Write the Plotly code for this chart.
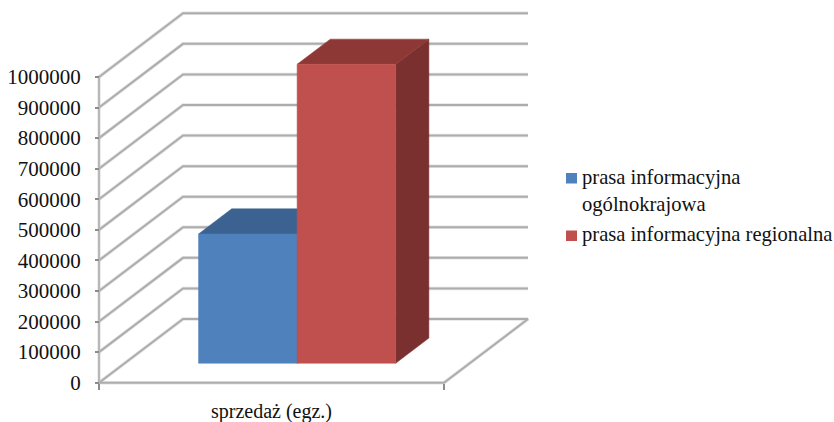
import plotly.graph_objects as go

# Chart content
category = "sprzedaż (egz.)"
series_names = ["prasa informacyjna ogólnokrajowa", "prasa informacyjna regionalna"]
legend_lines = ["prasa informacyjna<br>ogólnokrajowa", "prasa informacyjna regionalna"]
series_values = [423000, 978000]
tick_values = [0, 100000, 200000, 300000, 400000, 500000, 600000, 700000, 800000, 900000, 1000000]
tick_labels = ["0", "100000", "200000", "300000", "400000", "500000", "600000", "700000", "800000", "900000", "1000000"]

front_colors = ["#4f81bd", "#c0504d"]
top_colors = ["#3c6291", "#8e3836"]
side_colors = ["#335378", "#7a302e"]
GRID = "#adadad"
GRID_SHADOW = "#e4e4e4"
INK = "#111111"
FONT = "Liberation Serif"

# Oblique projection: depth 0..1 runs from the front plane to the back wall
DEPTH_X = 0.2435
DEPTH_Y = 208400
BAR_WIDTH = 2 / 7
BAR_START = (1 - 2 * BAR_WIDTH) / 2
BAR_DEPTH = (0.305, 0.70)


def project(points):
    xs = [u + d * DEPTH_X for u, v, d in points]
    ys = [v + d * DEPTH_Y for u, v, d in points]
    return xs, ys


def wire(points, width=2, color=GRID):
    xs, ys = project(points)
    return go.Scatter(x=xs, y=ys, mode="lines", line=dict(color=color, width=width),
                      hoverinfo="skip", showlegend=False)


def shaded_wire(points):
    # A wide pale stroke under the core stroke gives the gridline its soft edge
    return [wire(points, width=3.5, color=GRID_SHADOW), wire(points)]


def face(points, color, name):
    xs, ys = project(points + points[:1])
    return go.Scatter(x=xs, y=ys, mode="lines", fill="toself", fillcolor=color,
                      line=dict(color=color, width=0.5), name=name, showlegend=False,
                      hoverinfo="name")


fig = go.Figure()

# Walls, floor and vertical axis
for v in tick_values[1:]:
    fig.add_traces(shaded_wire([(0, v, 0), (0, v, 1), (1, v, 1)]))
fig.add_traces(shaded_wire([(0, 0, 0), (0, 0, 1), (1, 0, 1), (1, 0, 0), (0, 0, 0)]))
fig.add_trace(wire([(0, 0, 0), (0, tick_values[-1], 0)], width=2.5, color="#b8b8b8"))

# Each bar is three visible faces of a box
near, far = BAR_DEPTH
for i, value in enumerate(series_values):
    left = BAR_START + i * BAR_WIDTH
    right = left + BAR_WIDTH
    name = series_names[i]
    fig.add_trace(face([(right, 0, near), (right, 0, far), (right, value, far), (right, value, near)],
                       side_colors[i], name))
    fig.add_trace(face([(left, value, near), (right, value, near), (right, value, far), (left, value, far)],
                       top_colors[i], name))
    fig.add_trace(face([(left, 0, near), (right, 0, near), (right, value, near), (left, value, near)],
                       front_colors[i], name))

# Legend keys and their labels
annotations = []
shapes = []
for i, text in enumerate(legend_lines):
    key_top = [173, 230.5][i]
    text_top = [165, 222][i]
    shapes.append(dict(type="rect", xref="paper", yref="paper",
                       x0=566 / 834, x1=577 / 834, y0=1 - (key_top + 10.5) / 422, y1=1 - key_top / 422,
                       fillcolor=front_colors[i], line_width=0))
    annotations.append(dict(text=text, xref="paper", yref="paper", x=581 / 834,
                            y=1 - text_top / 422, xanchor="left", yanchor="top", align="left",
                            showarrow=False, borderpad=0,
                            font=dict(family=FONT, size=20.6, color=INK)))

fig.update_layout(
    width=834, height=422, autosize=False,
    margin=dict(l=0, r=0, t=0, b=0, pad=0, autoexpand=False),
    paper_bgcolor="white", plot_bgcolor="white",
    showlegend=False, shapes=shapes, annotations=annotations,
    font=dict(family=FONT, color=INK),
    xaxis=dict(range=[-99 / 345, 735 / 345], domain=[0, 1], anchor="free", position=39.3 / 422,
               showgrid=False, zeroline=False, showline=False,
               tickmode="array", tickvals=[0.5], ticktext=[category], ticks="outside", ticklen=0,
               ticklabelstandoff=10, tickfont=dict(family=FONT, size=20, color=INK),
               minor=dict(tickmode="array", tickvals=[0, 1], ticks="outside", ticklen=6,
                          tickwidth=1.5, tickcolor="#8c8c8c")),
    yaxis=dict(range=[-128558, 1251881], domain=[0, 1], anchor="free", position=99 / 834, side="left",
               showgrid=False, zeroline=False, showline=False,
               tickmode="array", tickvals=tick_values, ticktext=tick_labels, ticks="outside",
               ticklen=4, tickwidth=1.5, tickcolor="#8c8c8c", ticklabelstandoff=10,
               tickfont=dict(family=FONT, size=21, color=INK)),
)

fig.write_html("out.html", config=dict(displayModeBar=False))
